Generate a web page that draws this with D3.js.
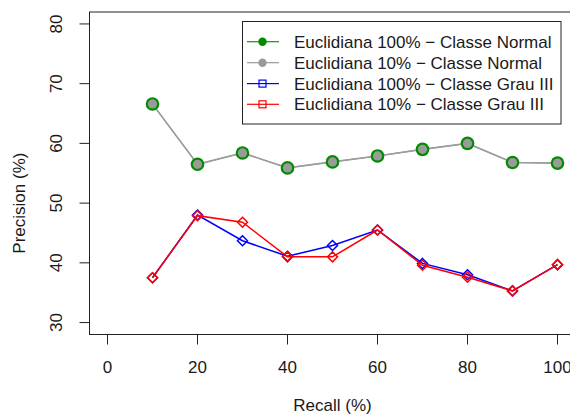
<!DOCTYPE html>
<html>
<head>
<meta charset="utf-8">
<script src="https://cdn.jsdelivr.net/npm/d3@7.9.0/dist/d3.min.js"></script>
<style>
  body { margin: 0; background: #fff; }
  svg { display: block; font-family: "Liberation Sans", Arial, sans-serif; }
  text { fill: #1a1a1a; }
</style>
</head>
<body>
<svg id="chart" width="570" height="414"></svg>
<script>
// recall levels on the x axis
const recall = [10, 20, 30, 40, 50, 60, 70, 80, 90, 100];

// precision values
const euc100Normal = [66.6, 56.5, 58.4, 55.9, 56.9, 57.9, 59.0, 60.0, 56.8, 56.7];
const euc10Normal  = [66.6, 56.5, 58.4, 55.9, 56.9, 57.9, 59.0, 60.0, 56.8, 56.7];
const euc100Grau   = [37.5, 48.0, 43.7, 41.1, 42.9, 45.5, 39.9, 38.0, 35.3, 39.7];
const euc10Grau    = [37.5, 47.9, 46.8, 41.0, 41.0, 45.5, 39.6, 37.6, 35.3, 39.7];

const xTicks = [0, 20, 40, 60, 80, 100];
const yTicks = [30, 40, 50, 60, 70, 80];

const legendLabels = [
  "Euclidiana 100% \u2212 Classe Normal",
  "Euclidiana 10% \u2212 Classe Normal",
  "Euclidiana 100% \u2212 Classe Grau III",
  "Euclidiana 10% \u2212 Classe Grau III"
];

const svg = d3.select("#chart");

// plot region (R style: 4% padding on each side)
const plot = { left: 89.5, right: 575.5, top: 12, bottom: 334.5 };

const x = d3.scaleLinear().domain([-4, 104]).range([plot.left, plot.right]);
const y = d3.scaleLinear().domain([28, 82]).range([plot.bottom, plot.top]);

const fs = 17;

// box
svg.append("rect")
  .attr("x", plot.left).attr("y", plot.top)
  .attr("width", plot.right - plot.left).attr("height", plot.bottom - plot.top)
  .attr("fill", "none").attr("stroke", "#222").attr("stroke-width", 1);

// x axis ticks + labels
const xAxis = svg.append("g");
xTicks.forEach(t => {
  xAxis.append("line")
    .attr("x1", x(t)).attr("x2", x(t))
    .attr("y1", plot.bottom).attr("y2", plot.bottom + 10)
    .attr("stroke", "#222");
  xAxis.append("text")
    .attr("x", x(t)).attr("y", 372.5)
    .attr("text-anchor", "middle")
    .attr("font-size", fs)
    .text(t);
});

// y axis ticks + labels (rotated like R)
const yAxis = svg.append("g");
yTicks.forEach(t => {
  yAxis.append("line")
    .attr("x1", plot.left - 10).attr("x2", plot.left)
    .attr("y1", y(t)).attr("y2", y(t))
    .attr("stroke", "#222");
  yAxis.append("text")
    .attr("transform", `translate(62,${y(t)}) rotate(-90)`)
    .attr("text-anchor", "middle")
    .attr("font-size", fs)
    .text(t);
});

// axis titles
svg.append("text")
  .attr("x", x(50)).attr("y", 411)
  .attr("text-anchor", "middle")
  .attr("font-size", fs)
  .text("Recall (%)");

svg.append("text")
  .attr("transform", `translate(24.5,${y(50)}) rotate(-90)`)
  .attr("text-anchor", "middle")
  .attr("font-size", fs)
  .text("Precision (%)");

const line = d3.line()
  .x((d, i) => x(recall[i]))
  .y(d => y(d));

const diamond = r => `M0,${-r}L${r},0L0,${r}L${-r},0Z`;

// normal class: green ring under gray dots
svg.append("path").datum(euc100Normal)
  .attr("d", line).attr("fill", "none").attr("stroke", "#00a000").attr("stroke-width", 0.8);
svg.append("path").datum(euc10Normal)
  .attr("d", line).attr("fill", "none").attr("stroke", "#9c9c9c").attr("stroke-width", 1.6);
svg.selectAll(".gdot").data(euc100Normal).join("circle")
  .attr("class", "gdot")
  .attr("cx", (d, i) => x(recall[i])).attr("cy", d => y(d))
  .attr("r", 6.8).attr("fill", "#008b00");
svg.selectAll(".ydot").data(euc10Normal).join("circle")
  .attr("class", "ydot")
  .attr("cx", (d, i) => x(recall[i])).attr("cy", d => y(d))
  .attr("r", 4.6).attr("fill", "#9a9a9a");

// grau III class: blue then red on top
[[euc100Grau, "#0000ff"], [euc10Grau, "#ff0000"]].forEach(([vals, col]) => {
  svg.append("path").datum(vals)
    .attr("d", line).attr("fill", "none").attr("stroke", col).attr("stroke-width", 1.5);
  svg.append("g").selectAll("path").data(vals).join("path")
    .attr("transform", (d, i) => `translate(${x(recall[i])},${y(d)})`)
    .attr("d", diamond(5))
    .attr("fill", "none").attr("stroke", col).attr("stroke-width", 1.5);
});

// legend
const lg = svg.append("g");
lg.append("rect")
  .attr("x", 242.5).attr("y", 21.5).attr("width", 318.5).attr("height", 102.5)
  .attr("fill", "#fff").attr("stroke", "#222");

const legendCols = ["#00a000", "#999", "#0000ff", "#ff0000"];
const legendRows = [41.7, 62.7, 83.6, 104.3];
legendLabels.forEach((lab, i) => {
  const ry = legendRows[i];
  lg.append("line")
    .attr("x1", 247).attr("x2", 279).attr("y1", ry).attr("y2", ry)
    .attr("stroke", legendCols[i]).attr("stroke-width", 1.2);
  if (i < 2) {
    lg.append("circle").attr("cx", 262.5).attr("cy", ry).attr("r", 4.2)
      .attr("fill", i === 0 ? "#008b00" : "#9a9a9a");
  } else {
    lg.append("rect").attr("x", 259).attr("y", ry - 3.5).attr("width", 7).attr("height", 7)
      .attr("fill", "none").attr("stroke", legendCols[i]).attr("stroke-width", 1.2);
  }
  lg.append("text")
    .attr("x", 294).attr("y", ry + 6)
    .attr("font-size", fs)
    .text(lab);
});
</script>
</body>
</html>
